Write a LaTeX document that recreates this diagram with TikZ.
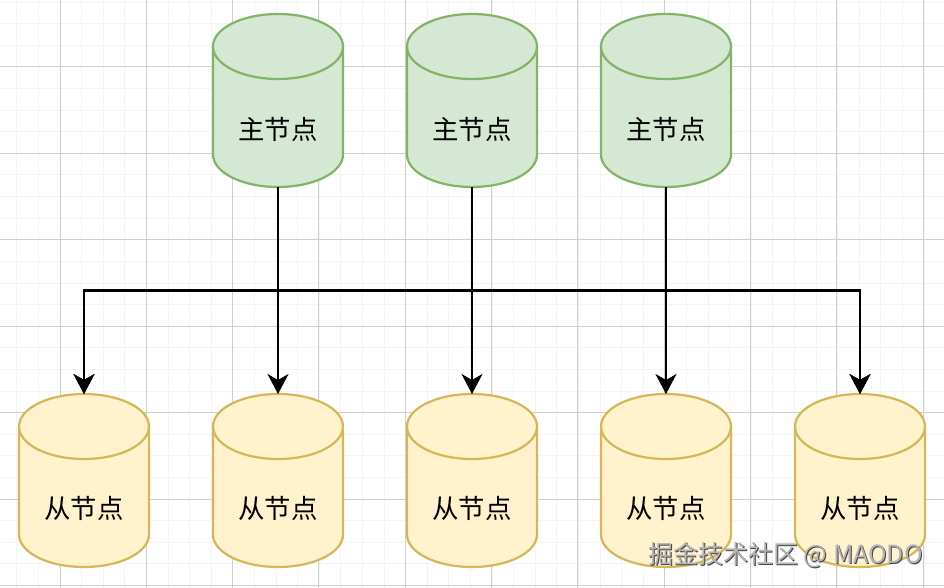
\documentclass[tikz,border=0pt]{standalone}
\usepackage{fontspec}
\newfontfamily\cjk{Noto Sans CJK SC}
\usetikzlibrary{arrows.meta}
\definecolor{gridminor}{HTML}{F4F4F4}
\definecolor{gridmajor}{HTML}{CFCFCF}
\definecolor{gfill}{HTML}{D5E8D4}
\definecolor{gline}{HTML}{82B366}
\definecolor{yfill}{HTML}{FFF2CC}
\definecolor{yline}{HTML}{D6B656}
\definecolor{markgrey}{HTML}{B4B4B4}
\definecolor{markshadow}{HTML}{444444}
\newcommand{\dbdraw}[3]{%
  \draw[shift={(#1.center)},line width=2.2pt,draw=#2,fill=#3,line join=round]
    (-65,-54) .. controls (-65,-72) and (-36,-86.5) .. (0,-86.5)
    .. controls (36,-86.5) and (65,-72) .. (65,-54)
    -- (65,54) .. controls (65,72) and (36,86.5) .. (0,86.5)
    .. controls (-36,86.5) and (-65,72) .. (-65,54) -- cycle;
  \draw[shift={(#1.center)},line width=2.2pt,draw=#2]
    (-65,-54) .. controls (-65,-36) and (-36,-21.5) .. (0,-21.5)
    .. controls (36,-21.5) and (65,-36) .. (65,-54);
}
\tikzset{
  x=1pt,y=-1pt,
  db/.style={shape=rectangle,minimum width=130pt,minimum height=173pt,inner sep=0pt,outer sep=0pt},
  lbl/.style={font=\cjk\fontsize{26.4}{30}\selectfont,text=black,inner sep=0pt},
  conn/.style={line width=2.2pt,draw=black,-{Stealth[length=20pt,width=21pt,inset=6pt]}},
  wmark/.style={font=\cjk\fontsize{25}{29}\selectfont,inner sep=0pt,anchor=west}
}
\begin{document}
\begin{tikzpicture}
\useasboundingbox (0,0) rectangle (944,588);
\fill[white] (0,0) rectangle (944,588);
% grid
\foreach \i in {0,...,44} \draw[gridminor,line width=1pt] ({-4.8+21.6*\i},0) -- ({-4.8+21.6*\i},588);
\foreach \i in {0,...,27} \draw[gridminor,line width=1pt] (0,{2.2+21.6*\i}) -- (944,{2.2+21.6*\i});
\foreach \i in {0,...,10} \draw[gridmajor,line width=1pt] ({60+86.3*\i},0) -- ({60+86.3*\i},588);
\foreach \i in {0,...,6} \draw[gridmajor,line width=1pt] (0,{67+86.4*\i}) -- (944,{67+86.4*\i});
% nodes
\node[db] (m1) at (278,100.5) {};
\node[db] (m2) at (472,100.5) {};
\node[db] (m3) at (666,100.5) {};
\node[db] (s1) at (84,480.5) {};
\node[db] (s2) at (278,480.5) {};
\node[db] (s3) at (472,480.5) {};
\node[db] (s4) at (666,480.5) {};
\node[db] (s5) at (860,480.5) {};
\foreach \n in {m1,m2,m3} {\dbdraw{\n}{gline}{gfill}}
\foreach \n in {s1,s2,s3,s4,s5} {\dbdraw{\n}{yline}{yfill}}
\foreach \n/\t in {m1/主,m2/主,m3/主}
  \node[lbl] (l\n) at ([yshift=-28.5pt]\n.center) {\t 节点};
\foreach \n/\t in {s1/从,s2/从,s3/从,s4/从,s5/从}
  \node[lbl] (l\n) at ([yshift=-28pt]\n.center) {\t 节点};
\coordinate (bus) at (0,290.5);
% connectors
\foreach \a/\b in {m1/s1,m1/s5,m2/s1,m3/s5}
  \draw[conn] (\a.south) -- (\a.south |- bus) -- (\b.north |- bus) -- (\b.north);
\foreach \a/\b in {m1/s2,m2/s3,m3/s4}
  \draw[conn] (\a.south) -- (\b.north);
% watermark
\node[wmark,text=markshadow] (w2) at (649,556) {掘金技术社区 @ MAODO};
\node[wmark,text=markgrey] (w1) at (648,555) {掘金技术社区 @ MAODO};
\end{tikzpicture}
\end{document}
